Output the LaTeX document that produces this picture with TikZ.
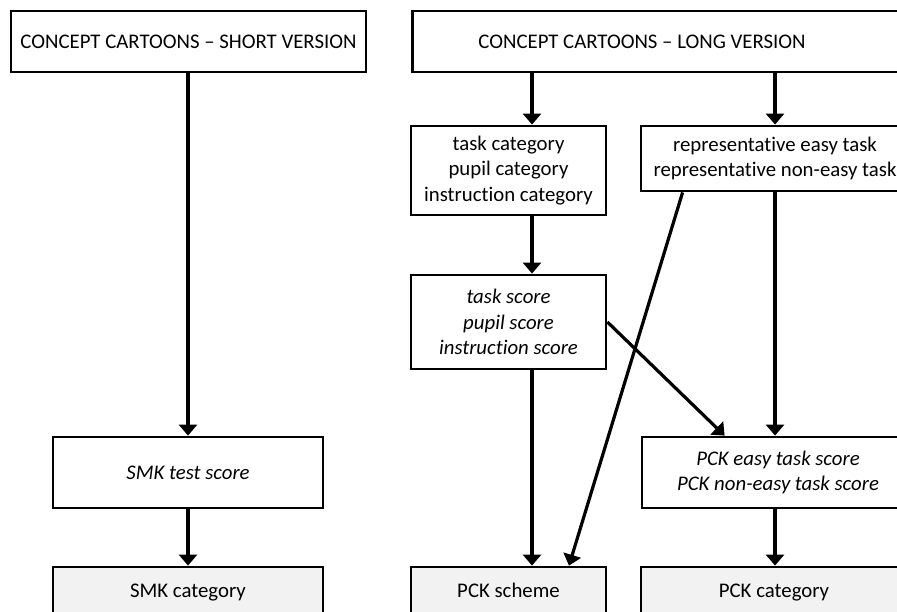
\documentclass[tikz,border=0pt]{standalone}
\usepackage{fontspec}
\setmainfont{Carlito}[Ligatures=NoCommon]
\usetikzlibrary{arrows.meta}
\definecolor{boxgray}{HTML}{F2F2F2}
\tikzset{
  box/.style={draw, line width=2.8pt, align=center, inner sep=0pt,
    font=\fontsize{20.8}{25.5}\selectfont},
  oneline/.style={box, text height=18pt, text depth=4.5pt},
  endbox/.style={oneline, fill=boxgray},
  arr/.style={line width=3.2pt, -{Triangle[length=11pt,width=18pt]}}
}
\begin{document}
\begin{tikzpicture}[x=1pt,y=-1pt]
				\useasboundingbox (0,0) rectangle (897,611);
				\clip (0,0) rectangle (897,611);
				\coordinate (colB) at (532,0);
				\coordinate (colC) at (775,0);
				\node[oneline, minimum width=355pt, minimum height=61pt] (short) at (188.5,41.5) {CONCEPT CARTOONS -- SHORT VERSION};
				\node[oneline, anchor=west, inner xsep=66pt, minimum height=61pt] (long) at (411,41.5) {\makebox[380pt][l]{CONCEPT CARTOONS -- LONG VERSION}};
				\node[box, minimum width=195pt, minimum height=89pt] (cat) at (508.5,170.5) {task category\\pupil category\\instruction category};
				\node[box, minimum width=268pt, minimum height=65pt] (rep) at (775,158.5) {representative easy task\\representative non-easy task};
				\node[box, minimum width=195pt, minimum height=94pt] (score) at (508.5,322) {\itshape task score\\\itshape pupil score\\\itshape instruction score};
				\node[oneline, minimum width=270pt, minimum height=71pt] (smkscore) at (188,472.5) {\itshape SMK test score};
				\node[box, minimum width=272pt, minimum height=71pt] (pckscore) at (778,472.5) {\itshape PCK easy task score\\\itshape PCK non-easy task score};
				\node[endbox, minimum width=270pt, minimum height=48pt] (smkcat) at (188,591) {SMK category};
				\node[endbox, minimum width=195pt, minimum height=48pt] (scheme) at (508.5,591) {PCK scheme};
				\node[endbox, minimum width=266pt, minimum height=48pt] (pckcat) at (774,591) {PCK category};
				\draw[arr] (short.south -| smkscore.north) -- (smkscore.north);
				\draw[arr] (smkscore) -- (smkcat);
				\draw[arr] (long.south -| colB) -- (cat.north -| colB);
				\draw[arr] (long.south -| colC) -- (rep.north -| colC);
				\draw[arr] (cat.south -| colB) -- (score.north -| colB);
				\draw[arr] (score.south -| colB) -- (scheme.north -| colB);
				\draw[arr] (rep.south -| colC) -- (pckscore.north -| colC);
				\draw[arr] (pckscore.south -| colC) -- (pckcat.north -| colC);
				\draw[arr] ([xshift=43pt]rep.south west) -- ([xshift=60.5pt]scheme.north);
				\draw[arr] (score.east) -- ([xshift=84pt]pckscore.north west);
			\end{tikzpicture}
\end{document}
